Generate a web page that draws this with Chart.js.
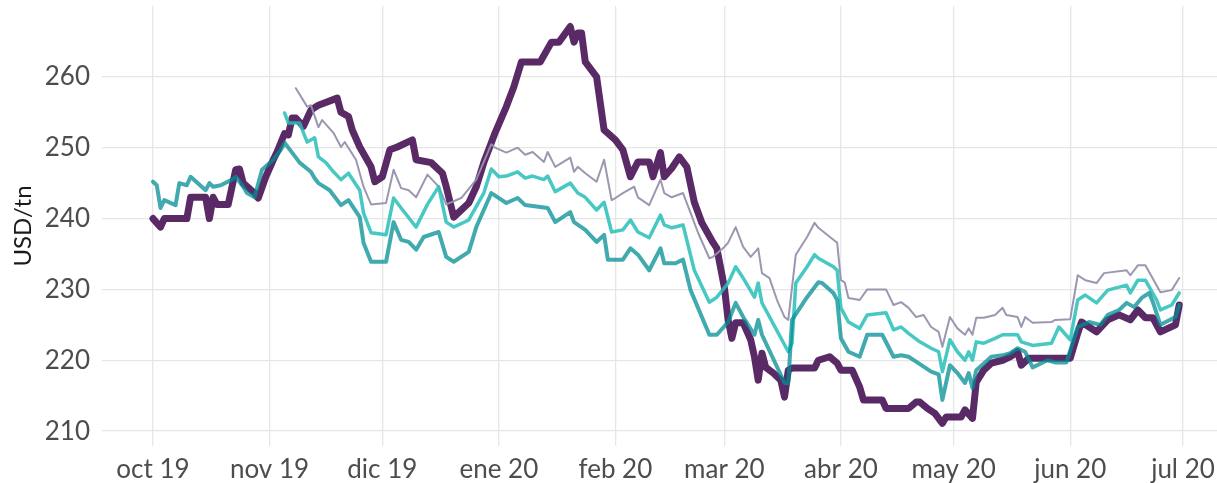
<!DOCTYPE html>
<html>
<head>
<meta charset="utf-8">
<script src="https://cdn.jsdelivr.net/npm/chart.js@4.4.1/dist/chart.umd.min.js"></script>
<style>
  html, body { margin: 0; padding: 0; background: #fff; }
  #wrap { width: 1217px; height: 483px; }
</style>
</head>
<body>
<div id="wrap"><canvas id="priceChart"></canvas></div>
<script>
// eje x: inicio de cada mes y su etiqueta
const monthStarts = ['2019-10-01', '2019-11-01', '2019-12-01', '2020-01-01', '2020-02-01',
  '2020-03-01', '2020-04-01', '2020-05-01', '2020-06-01', '2020-07-01'];
const monthLabels = ['oct 19', 'nov 19', 'dic 19', 'ene 20', 'feb 20',
  'mar 20', 'abr 20', 'may 20', 'jun 20', 'jul 20'];
const yTicks = [210, 220, 230, 240, 250, 260];

// precio disponible (linea gruesa violeta)
const spotDates = ['2019-10-01','2019-10-03','2019-10-04','2019-10-10','2019-10-11','2019-10-15','2019-10-16','2019-10-17','2019-10-18','2019-10-21',
  '2019-10-23','2019-10-24','2019-10-25','2019-10-28','2019-10-29','2019-10-31','2019-11-02','2019-11-03','2019-11-05','2019-11-06',
  '2019-11-07','2019-11-08','2019-11-10','2019-11-12','2019-11-14','2019-11-19','2019-11-20','2019-11-22','2019-11-23','2019-11-25',
  '2019-11-28','2019-11-29','2019-12-01','2019-12-03','2019-12-05','2019-12-09','2019-12-10','2019-12-14','2019-12-17','2019-12-18',
  '2019-12-20','2019-12-24','2019-12-26','2019-12-28','2019-12-30','2019-12-31','2020-01-03','2020-01-05','2020-01-07','2020-01-12',
  '2020-01-15','2020-01-17','2020-01-20','2020-01-21','2020-01-22','2020-01-23','2020-01-24','2020-01-27','2020-01-29','2020-02-01',
  '2020-02-03','2020-02-05','2020-02-07','2020-02-10','2020-02-11','2020-02-13','2020-02-14','2020-02-16','2020-02-18','2020-02-20',
  '2020-02-22','2020-02-24','2020-02-27','2020-02-28','2020-03-01','2020-03-02','2020-03-03','2020-03-04','2020-03-06','2020-03-08',
  '2020-03-09','2020-03-10','2020-03-11','2020-03-12','2020-03-14','2020-03-16','2020-03-17','2020-03-18','2020-03-19','2020-03-25',
  '2020-03-26','2020-03-29','2020-03-31','2020-04-01','2020-04-04','2020-04-06','2020-04-07','2020-04-12','2020-04-13','2020-04-19',
  '2020-04-21','2020-04-22','2020-04-24','2020-04-26','2020-04-28','2020-04-29','2020-05-03','2020-05-04','2020-05-06','2020-05-07',
  '2020-05-09','2020-05-11','2020-05-14','2020-05-16','2020-05-18','2020-05-19','2020-05-21','2020-06-01','2020-06-03','2020-06-04',
  '2020-06-08','2020-06-11','2020-06-14','2020-06-17','2020-06-19','2020-06-21','2020-06-23','2020-06-25','2020-06-29','2020-06-30'];
const spotValues = [240.0,238.8,240.0,240.0,243.0,243.0,240.0,243.0,242.0,242.0,
  246.9,247.0,245.0,243.6,242.9,245.9,248.3,249.4,252.0,251.8,
  254.2,254.2,253.0,255.3,256.0,257.0,255.0,254.4,252.5,250.1,
  247.3,245.2,245.9,249.7,250.1,251.1,248.3,247.9,246.4,244.5,
  240.2,242.2,244.5,247.9,250.7,252.1,255.8,258.6,262.1,262.1,
  264.9,264.9,267.1,264.9,266.2,266.2,262.1,260.0,252.5,251.1,
  249.7,245.9,248.0,248.0,245.9,249.3,245.9,247.1,248.7,247.3,
  242.3,239.4,236.6,235.8,230.3,225.7,223.1,225.3,225.3,222.9,
  220.5,217.2,221.0,219.0,218.2,217.2,214.8,218.6,218.9,218.9,
  220.0,220.5,219.6,218.6,218.6,216.2,214.4,214.4,213.2,213.2,
  214.1,214.1,213.2,212.5,211.1,212.0,212.0,213.0,211.8,216.9,
  218.6,219.6,220.0,220.5,221.2,219.3,220.3,220.3,223.8,225.4,
  224.0,225.7,226.4,225.7,227.1,226.0,226.0,224.0,225.0,227.8];

// posicion cercana (teal oscuro)
const nearDates = ['2019-10-01','2019-10-02','2019-10-03','2019-10-04','2019-10-07','2019-10-08','2019-10-10','2019-10-11','2019-10-15','2019-10-16',
  '2019-10-17','2019-10-19','2019-10-22','2019-10-23','2019-10-25','2019-10-26','2019-10-28','2019-10-30','2019-11-02','2019-11-04',
  '2019-11-05','2019-11-07','2019-11-09','2019-11-12','2019-11-13','2019-11-14','2019-11-17','2019-11-20','2019-11-22','2019-11-25',
  '2019-11-26','2019-11-28','2019-12-02','2019-12-04','2019-12-06','2019-12-08','2019-12-10','2019-12-12','2019-12-16','2019-12-18',
  '2019-12-20','2019-12-24','2019-12-26','2019-12-30','2020-01-03','2020-01-06','2020-01-08','2020-01-14','2020-01-16','2020-01-20',
  '2020-01-21','2020-01-24','2020-01-27','2020-01-29','2020-01-30','2020-02-03','2020-02-05','2020-02-07','2020-02-10','2020-02-13',
  '2020-02-14','2020-02-17','2020-02-19','2020-02-21','2020-02-26','2020-02-28','2020-03-02','2020-03-04','2020-03-06','2020-03-09',
  '2020-03-10','2020-03-11','2020-03-17','2020-03-18','2020-03-19','2020-03-23','2020-03-26','2020-03-27','2020-03-30','2020-03-31',
  '2020-04-01','2020-04-03','2020-04-06','2020-04-08','2020-04-12','2020-04-15','2020-04-17','2020-04-19','2020-04-21','2020-04-25',
  '2020-04-27','2020-04-28','2020-04-30','2020-05-02','2020-05-04','2020-05-05','2020-05-06','2020-05-07','2020-05-10','2020-05-11',
  '2020-05-14','2020-05-16','2020-05-18','2020-05-20','2020-05-22','2020-05-26','2020-05-28','2020-05-31','2020-06-03','2020-06-06',
  '2020-06-09','2020-06-11','2020-06-14','2020-06-16','2020-06-18','2020-06-20','2020-06-22','2020-06-23','2020-06-25','2020-06-29',
  '2020-06-30'];
const nearValues = [245.2,244.7,241.5,242.6,241.9,245.0,244.7,245.9,244.0,245.0,
  244.5,244.7,245.5,245.9,244.5,243.6,243.0,246.9,248.3,249.7,
  250.7,249.3,247.9,246.6,245.7,245.0,244.0,241.9,242.6,240.2,
  236.6,233.9,233.9,239.5,237.0,236.7,235.6,237.4,238.1,234.6,
  233.9,235.3,238.8,243.6,242.2,242.9,241.9,241.5,239.5,240.9,
  239.5,238.4,236.7,237.7,234.2,234.2,235.8,234.9,232.7,235.8,
  233.7,233.7,234.2,229.9,223.6,223.6,225.4,228.1,226.1,223.6,
  225.7,223.6,216.8,216.8,225.7,228.9,231.0,230.9,229.5,228.5,
  223.1,221.2,220.5,223.6,223.6,220.5,220.7,220.5,219.8,218.4,
  218.0,214.4,219.3,218.2,216.8,218.2,216.1,218.6,220.0,220.5,
  220.7,221.0,221.7,221.2,219.0,220.0,219.7,219.7,224.7,225.4,
  225.0,226.4,227.1,228.1,227.5,228.8,229.5,228.2,225.0,226.1,
  227.8];

// posicion intermedia (turquesa)
const midDates = ['2019-11-05','2019-11-06','2019-11-09','2019-11-11','2019-11-13','2019-11-14','2019-11-16','2019-11-18','2019-11-20','2019-11-22',
  '2019-11-25','2019-11-26','2019-11-28','2019-12-02','2019-12-04','2019-12-06','2019-12-10','2019-12-13','2019-12-16','2019-12-18',
  '2019-12-20','2019-12-24','2019-12-28','2019-12-30','2020-01-01','2020-01-03','2020-01-06','2020-01-08','2020-01-10','2020-01-13',
  '2020-01-14','2020-01-16','2020-01-20','2020-01-22','2020-01-24','2020-01-27','2020-01-29','2020-01-31','2020-02-03','2020-02-05',
  '2020-02-07','2020-02-10','2020-02-13','2020-02-14','2020-02-16','2020-02-19','2020-02-22','2020-02-26','2020-02-28','2020-03-02',
  '2020-03-04','2020-03-06','2020-03-09','2020-03-10','2020-03-11','2020-03-18','2020-03-19','2020-03-20','2020-03-23','2020-03-25',
  '2020-03-26','2020-03-30','2020-03-31','2020-04-01','2020-04-03','2020-04-06','2020-04-08','2020-04-13','2020-04-15','2020-04-17',
  '2020-04-19','2020-04-22','2020-04-25','2020-04-27','2020-04-28','2020-04-30','2020-05-02','2020-05-04','2020-05-05','2020-05-06',
  '2020-05-07','2020-05-09','2020-05-12','2020-05-14','2020-05-18','2020-05-19','2020-05-22','2020-05-27','2020-05-29','2020-06-01',
  '2020-06-03','2020-06-05','2020-06-08','2020-06-11','2020-06-16','2020-06-17','2020-06-19','2020-06-21','2020-06-24','2020-06-25',
  '2020-06-28','2020-06-30'];
const midValues = [254.9,253.5,253.5,250.8,251.4,248.7,247.9,246.6,245.5,246.4,
  244.0,240.8,238.0,237.7,242.9,241.5,238.8,242.0,244.5,239.5,
  238.8,239.8,243.6,247.0,245.9,246.0,246.6,245.7,246.0,245.5,
  246.0,243.8,245.0,243.6,243.0,241.2,242.3,238.1,238.4,239.8,
  238.1,237.3,240.5,239.1,238.7,239.1,232.7,228.2,228.9,230.9,
  233.2,231.6,228.9,230.9,228.1,221.2,222.4,230.9,233.2,234.9,
  234.4,233.2,232.7,227.4,225.4,224.5,226.4,226.7,224.3,224.7,
  223.8,222.6,221.7,221.2,218.4,222.9,221.2,220.0,221.2,220.0,
  222.6,222.4,223.1,223.6,223.6,222.6,222.1,222.4,224.7,222.9,
  228.5,229.2,228.1,229.9,230.6,229.5,231.3,231.3,228.5,227.1,
  227.8,229.5];

// posicion lejana (gris lavanda, fina)
const farDates = ['2019-11-08','2019-11-11','2019-11-12','2019-11-14','2019-11-15','2019-11-18','2019-11-20','2019-11-21','2019-11-24','2019-11-26',
  '2019-11-28','2019-12-02','2019-12-04','2019-12-06','2019-12-08','2019-12-10','2019-12-13','2019-12-16','2019-12-18','2019-12-22',
  '2019-12-26','2019-12-30','2019-12-31','2020-01-03','2020-01-06','2020-01-08','2020-01-10','2020-01-13','2020-01-14','2020-01-16',
  '2020-01-20','2020-01-21','2020-01-22','2020-01-24','2020-01-27','2020-01-29','2020-01-31','2020-02-01','2020-02-03','2020-02-06',
  '2020-02-07','2020-02-10','2020-02-13','2020-02-14','2020-02-16','2020-02-19','2020-02-21','2020-02-23','2020-02-26','2020-02-27',
  '2020-03-01','2020-03-02','2020-03-04','2020-03-06','2020-03-08','2020-03-10','2020-03-11','2020-03-13','2020-03-15','2020-03-17',
  '2020-03-18','2020-03-20','2020-03-23','2020-03-25','2020-03-26','2020-03-30','2020-03-31','2020-04-01','2020-04-02','2020-04-03',
  '2020-04-06','2020-04-08','2020-04-13','2020-04-15','2020-04-17','2020-04-19','2020-04-21','2020-04-23','2020-04-25','2020-04-27',
  '2020-04-28','2020-04-30','2020-05-02','2020-05-04','2020-05-05','2020-05-06','2020-05-07','2020-05-09','2020-05-12','2020-05-14',
  '2020-05-15','2020-05-18','2020-05-19','2020-05-20','2020-05-22','2020-05-27','2020-05-28','2020-06-01','2020-06-03','2020-06-05',
  '2020-06-08','2020-06-10','2020-06-16','2020-06-17','2020-06-19','2020-06-21','2020-06-25','2020-06-28','2020-06-30'];
const farValues = [258.4,255.8,256.0,252.9,253.9,252.1,250.1,250.8,248.3,244.5,
  242.0,242.2,246.9,244.3,244.0,243.0,246.2,244.5,242.0,242.9,
  245.5,250.5,250.0,249.3,250.0,249.0,249.4,248.0,249.4,247.3,
  248.6,246.6,247.3,246.4,245.2,248.3,242.6,242.9,243.6,244.5,
  243.0,241.9,245.5,243.6,243.0,243.6,240.8,238.0,234.4,234.6,
  236.0,236.6,238.8,236.0,234.6,235.8,232.3,231.6,228.5,226.1,
  225.7,234.9,237.4,239.4,238.7,237.0,236.6,231.3,231.0,228.8,
  228.5,230.0,230.0,227.8,228.2,227.4,226.1,226.4,224.7,224.0,
  221.9,226.1,224.5,223.6,224.5,223.6,226.0,226.0,226.4,227.4,
  226.4,226.1,224.7,226.1,225.3,225.4,225.7,225.8,232.0,231.3,
  230.9,232.3,232.7,232.0,233.4,233.4,229.6,229.9,231.6];

// dias desde el 1 de octubre de 2019
const origin = Date.parse('2019-10-01');
const toDay = (s) => (Date.parse(s) - origin) / 86400000;
const toPoints = (dates, values) => dates.map((d, i) => ({ x: toDay(d), y: values[i] }));

const fontFamily = 'Lato, "Open Sans", sans-serif';

const ctx = document.getElementById('priceChart');
new Chart(ctx, {
  type: 'line',
  data: {
    datasets: [
      {
        label: 'cercana',
        data: toPoints(nearDates, nearValues),
        borderColor: 'rgba(0, 141, 148, 0.75)',
        borderWidth: 4,
        order: 1,
      },
      {
        label: 'intermedia',
        data: toPoints(midDates, midValues),
        borderColor: 'rgba(40, 190, 185, 0.85)',
        borderWidth: 3.5,
        order: 2,
      },
      {
        label: 'lejana',
        data: toPoints(farDates, farValues),
        borderColor: 'rgba(150, 145, 172, 0.95)',
        borderWidth: 2,
        order: 3,
      },
      {
        label: 'disponible',
        data: toPoints(spotDates, spotValues),
        borderColor: '#592a66',
        borderWidth: 7,
        order: 4,
      },
    ],
  },
  options: {
    responsive: true,
    maintainAspectRatio: false,
    animation: false,
    layout: { padding: { top: 6, right: 0, left: 0, bottom: 0 } },
    elements: {
      point: { radius: 0 },
      line: { tension: 0, borderJoinStyle: 'round', borderCapStyle: 'round', fill: false },
    },
    scales: {
      x: {
        type: 'linear',
        min: -13.57,
        max: 283.05,
        grid: { color: '#e6e6e6', lineWidth: 1.3, drawTicks: false },
        border: { display: false },
        afterBuildTicks: (axis) => {
          axis.ticks = monthStarts.map((s) => ({ value: toDay(s) }));
        },
        afterFit: (scale) => {
          scale.height = 37;
          scale.paddingLeft = 0;
          scale.paddingRight = 0;
        },
        ticks: {
          autoSkip: false,
          maxRotation: 0,
          padding: 8,
          color: '#4d4d4d',
          font: { family: fontFamily, size: 26 },
          callback: (value, index) => monthLabels[index],
        },
      },
      y: {
        min: 207.9,
        max: 270,
        grid: { color: '#e6e6e6', lineWidth: 1.3, drawTicks: false },
        border: { display: false },
        afterBuildTicks: (axis) => {
          axis.ticks = yTicks.map((v) => ({ value: v }));
        },
        afterFit: (scale) => {
          scale.width = 102;
          scale.paddingTop = 0;
          scale.paddingBottom = 0;
        },
        ticks: {
          padding: 12,
          color: '#4d4d4d',
          font: { family: fontFamily, size: 26 },
        },
        title: {
          display: true,
          text: 'USD/tn',
          color: '#1a1a1a',
          padding: { top: 9, bottom: 0 },
          font: { family: fontFamily, size: 24 },
        },
      },
    },
    plugins: {
      legend: { display: false },
      tooltip: { enabled: false },
    },
  },
});
</script>
</body>
</html>
